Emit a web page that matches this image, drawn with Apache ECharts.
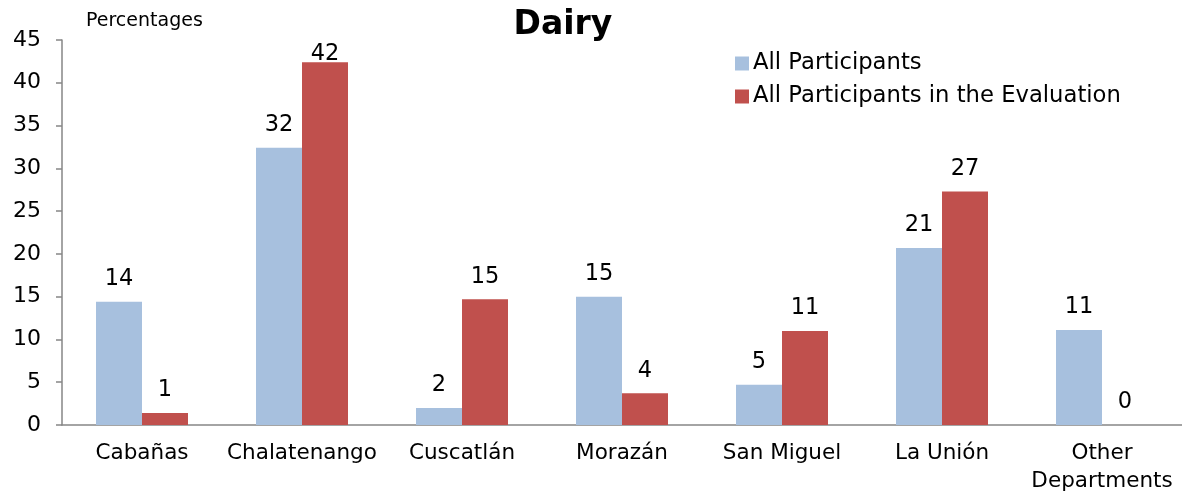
<!DOCTYPE html>
<html style="height:100%;">
<head>
	<meta charset="utf-8" />
	<title>Dairy</title>
	<script type="text/javascript" src="https://cdn.jsdelivr.net/npm/echarts@6/dist/echarts.min.js"></script>
</head>
<body style="margin:0;padding:0;height:100%;background:#fff;">
	<div id="chart" style="width:1182px;height:493px;"></div>
	<script type="text/javascript">
		// 数据
		const departments = ['Cabañas', 'Chalatenango', 'Cuscatlán', 'Morazán', 'San Miguel', 'La Unión', 'Other\nDepartments'];
		const allParticipants = [14.4, 32.4, 2.0, 15.0, 4.7, 20.7, 11.1];
		const evalParticipants = [1.4, 42.4, 14.7, 3.7, 11.0, 27.3, 0];
		const yTicks = { min: 0, max: 45, interval: 5 };

		const font = 'DejaVu Sans, Verdana, sans-serif';
		const chart = echarts.init(document.getElementById('chart'));

		function labelOpt() {
			return {
				show: true,
				position: 'top',
				distance: 11,
				color: '#000',
				fontFamily: font,
				fontSize: 22.5,
				formatter: function (p) { return Math.round(p.value); }
			};
		}
		// labels near the top get pushed down so they stay inside the plot
		function toData(arr) {
			return arr.map(function (v) {
				return v > 40 ? { value: v, label: { distance: -3 } } : v;
			});
		}

		chart.setOption({
			animation: false,
			title: {
				text: 'Dairy',
				left: 558,
				textAlign: 'center',
				top: 4,
				textStyle: { fontFamily: font, fontSize: 33, fontWeight: 'bold', color: '#000' }
			},
			graphic: [{
				type: 'text',
				left: 86,
				top: 12,
				style: { text: 'Percentages', font: '19px ' + font, fill: '#000' }
			}],
			legend: {
				orient: 'vertical',
				left: 730,
				top: 47,
				itemWidth: 14,
				itemHeight: 14,
				itemGap: 10,
				icon: 'rect',
				textStyle: { fontFamily: font, fontSize: 22.7, color: '#000', padding: [0, 0, 0, -1] },
				data: ['All Participants', 'All Participants in the Evaluation']
			},
			grid: { left: 62, right: 0, top: 40, bottom: 68, outerBoundsMode: 'none', containLabel: false },
			xAxis: {
				type: 'category',
				data: departments,
				axisLine: { lineStyle: { color: '#868686', width: 1.5 } },
				axisTick: { length: 6, lineStyle: { color: '#868686', width: 1.5 } },
				axisLabel: { color: '#000', fontFamily: font, fontSize: 21.5, margin: 14, lineHeight: 28, interval: 0 }
			},
			yAxis: {
				type: 'value',
				min: yTicks.min,
				max: yTicks.max,
				interval: yTicks.interval,
				axisLine: { show: true, lineStyle: { color: '#868686', width: 1.5 } },
				axisTick: { show: true, length: 6, lineStyle: { color: '#868686', width: 1.5 } },
				axisLabel: { color: '#000', fontFamily: font, fontSize: 22, margin: 21 },
				splitLine: { show: false }
			},
			series: [{
				name: 'All Participants',
				type: 'bar',
				barWidth: 46,
				barGap: '0%',
				itemStyle: { color: '#A7C0DE' },
				label: labelOpt(),
				data: toData(allParticipants)
			}, {
				name: 'All Participants in the Evaluation',
				type: 'bar',
				barWidth: 46,
				barGap: '0%',
				itemStyle: { color: '#C0504D' },
				label: labelOpt(),
				data: toData(evalParticipants)
			}]
		});
	</script>
</body>
</html>
